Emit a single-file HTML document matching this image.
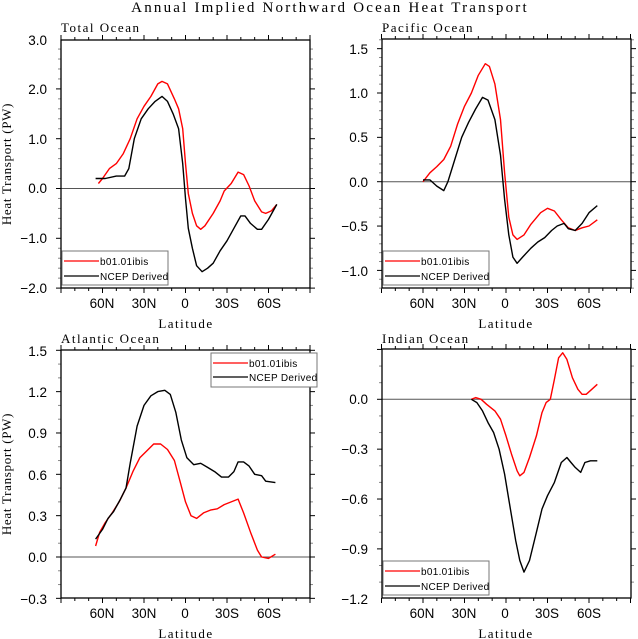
<!DOCTYPE html>
<html><head><meta charset="utf-8"><style>
body{margin:0;background:#fff;width:638px;height:639px;overflow:hidden}
svg{display:block}
text{font-family:"Liberation Sans",sans-serif;fill:#000}
.t{font-family:"Liberation Serif",serif}
</style></head><body>
<svg id="s" width="638" height="639" viewBox="0 0 638 639" xmlns="http://www.w3.org/2000/svg">
<rect width="638" height="639" fill="#fff"/>
<text class="t" x="330" y="12" font-size="15" letter-spacing="2.2" text-anchor="middle">Annual Implied Northward Ocean Heat Transport</text>
<g letter-spacing="1.5">
<text class="t" x="61" y="32" font-size="13">Total Ocean</text>
<text class="t" x="382" y="32" font-size="13">Pacific Ocean</text>
<text class="t" x="61" y="343" font-size="13">Atlantic Ocean</text>
<text class="t" x="382" y="343" font-size="13">Indian Ocean</text>
</g>
<g font-size="13.5" text-anchor="end">
<text x="47" y="45">3.0</text><text x="47" y="94">2.0</text><text x="47" y="144">1.0</text><text x="47" y="193">0.0</text><text x="47" y="243">−1.0</text><text x="47" y="293">−2.0</text>
<text x="368" y="54">1.5</text><text x="368" y="98">1.0</text><text x="368" y="142">0.5</text><text x="368" y="187">0.0</text><text x="368" y="231">−0.5</text><text x="368" y="276">−1.0</text>
<text x="47" y="356">1.5</text><text x="47" y="397">1.2</text><text x="47" y="438">0.9</text><text x="47" y="480">0.6</text><text x="47" y="521">0.3</text><text x="47" y="562">0.0</text><text x="47" y="604">−0.3</text>
<text x="368" y="404">0.0</text><text x="368" y="454">−0.3</text><text x="368" y="504">−0.6</text><text x="368" y="554">−0.9</text><text x="368" y="604">−1.2</text>
</g>
<g font-size="13.5" text-anchor="middle">
<text x="102" y="308">60N</text><text x="144" y="308">30N</text><text x="185" y="308">0</text><text x="227" y="308">30S</text><text x="269" y="308">60S</text>
<text x="422" y="308">60N</text><text x="464" y="308">30N</text><text x="505" y="308">0</text><text x="547" y="308">30S</text><text x="589" y="308">60S</text>
<text x="102" y="618">60N</text><text x="144" y="618">30N</text><text x="185" y="618">0</text><text x="227" y="618">30S</text><text x="269" y="618">60S</text>
<text x="422" y="618">60N</text><text x="464" y="618">30N</text><text x="505" y="618">0</text><text x="547" y="618">30S</text><text x="589" y="618">60S</text>
</g>
<g font-size="13" text-anchor="middle" letter-spacing="1.5">
<text class="t" x="186" y="328">Latitude</text><text class="t" x="506" y="328">Latitude</text>
<text class="t" x="186" y="638">Latitude</text><text class="t" x="506" y="638">Latitude</text>
</g>
<g font-size="13" text-anchor="middle" letter-spacing="0.7">
<text class="t" transform="translate(11,164) rotate(-90)">Heat Transport (PW)</text>
<text class="t" transform="translate(11,474) rotate(-90)">Heat Transport (PW)</text>
</g>
<g id="plots"></g>
<g font-size="10" font-family="Liberation Serif" letter-spacing="0.3">
<rect x="62" y="251" width="106" height="34" fill="#fff" stroke="#777"/>
<line x1="64" y1="261" x2="99" y2="261" stroke="red" stroke-width="1.3"/><text x="100" y="265">b01.01ibis</text>
<line x1="64" y1="276" x2="99" y2="276" stroke="#000" stroke-width="1.3"/><text x="100" y="280">NCEP Derived</text>
<rect x="383" y="251" width="106" height="34" fill="#fff" stroke="#777"/>
<line x1="385" y1="261" x2="420" y2="261" stroke="red" stroke-width="1.3"/><text x="421" y="265">b01.01ibis</text>
<line x1="385" y1="276" x2="420" y2="276" stroke="#000" stroke-width="1.3"/><text x="421" y="280">NCEP Derived</text>
<rect x="211" y="353" width="106" height="34" fill="#fff" stroke="#777"/>
<line x1="213" y1="363" x2="248" y2="363" stroke="red" stroke-width="1.3"/><text x="249" y="367">b01.01ibis</text>
<line x1="213" y1="377" x2="248" y2="377" stroke="#000" stroke-width="1.3"/><text x="249" y="381">NCEP Derived</text>
<rect x="383" y="561" width="106" height="34" fill="#fff" stroke="#777"/>
<line x1="385" y1="571" x2="420" y2="571" stroke="red" stroke-width="1.3"/><text x="421" y="575">b01.01ibis</text>
<line x1="385" y1="586" x2="420" y2="586" stroke="#000" stroke-width="1.3"/><text x="421" y="590">NCEP Derived</text>
</g>
</svg>
<script>
var P=[
{x0:61,x1:310,y0:40,y1:288,cx:185.5,cy:188.5,sy:49.8,maj:1,min:0.2,
r:[[63,0.1],[60,0.2],[55,0.4],[50,0.5],[45,0.7],[40,1.0],[35,1.4],[30,1.65],[25,1.85],[20,2.1],[17,2.15],[13,2.1],[8,1.8],[5,1.6],[2,1.2],[0,0.5],[-2,-0.1],[-5,-0.5],[-8,-0.75],[-11,-0.82],[-14,-0.75],[-20,-0.5],[-25,-0.25],[-28,-0.05],[-33,0.1],[-38,0.33],[-42,0.28],[-46,0.05],[-50,-0.25],[-55,-0.47],[-58,-0.5],[-62,-0.45],[-66,-0.32]],
b:[[65,0.2],[58,0.2],[50,0.25],[44,0.25],[41,0.4],[37,1.0],[32,1.4],[27,1.6],[22,1.75],[17,1.85],[13,1.75],[9,1.5],[5,1.2],[2,0.5],[0,-0.2],[-2,-0.8],[-5,-1.2],[-8,-1.55],[-12,-1.67],[-16,-1.6],[-20,-1.5],[-25,-1.25],[-30,-1.05],[-35,-0.8],[-40,-0.55],[-43,-0.55],[-47,-0.7],[-52,-0.82],[-55,-0.82],[-60,-0.62],[-66,-0.32]]},
{x0:382,x1:631,y0:39,y1:288,cx:506,cy:181.7,sy:88.7,maj:0.5,min:0.1,
r:[[60,0],[55,0.1],[50,0.17],[45,0.25],[40,0.4],[35,0.65],[30,0.85],[25,1.0],[20,1.2],[15,1.33],[12,1.3],[8,1.1],[4,0.7],[1,0.1],[-2,-0.4],[-5,-0.6],[-8,-0.65],[-13,-0.6],[-18,-0.48],[-25,-0.35],[-30,-0.3],[-35,-0.33],[-40,-0.43],[-45,-0.52],[-50,-0.55],[-55,-0.52],[-60,-0.5],[-66,-0.43]],
b:[[60,0.02],[55,0.02],[50,-0.05],[45,-0.1],[42,0.0],[37,0.25],[32,0.5],[27,0.67],[22,0.82],[17,0.95],[13,0.92],[8,0.7],[4,0.3],[1,-0.2],[-2,-0.6],[-5,-0.85],[-8,-0.92],[-12,-0.85],[-18,-0.75],[-23,-0.68],[-28,-0.63],[-33,-0.55],[-37,-0.5],[-42,-0.47],[-45,-0.53],[-50,-0.55],[-55,-0.47],[-60,-0.35],[-66,-0.27]]},
{x0:61,x1:310,y0:350,y1:598,cx:185.5,cy:557,sy:137.8,maj:0.3,min:0.1,
r:[[65,0.08],[62,0.18],[58,0.25],[53,0.32],[48,0.4],[43,0.5],[38,0.62],[33,0.72],[28,0.77],[23,0.82],[18,0.82],[13,0.78],[8,0.7],[4,0.55],[0,0.4],[-4,0.3],[-8,0.28],[-13,0.32],[-18,0.34],[-23,0.35],[-28,0.38],[-33,0.4],[-38,0.42],[-42,0.32],[-47,0.18],[-52,0.05],[-55,0],[-60,-0.01],[-65,0.02]],
b:[[65,0.13],[60,0.2],[56,0.28],[52,0.33],[47,0.42],[43,0.5],[40,0.68],[35,0.95],[30,1.1],[25,1.17],[20,1.2],[15,1.21],[11,1.18],[7,1.05],[3,0.85],[-1,0.72],[-6,0.67],[-11,0.68],[-16,0.65],[-21,0.62],[-26,0.58],[-31,0.58],[-35,0.62],[-38,0.69],[-42,0.69],[-46,0.66],[-50,0.6],[-55,0.59],[-58,0.55],[-65,0.54]]},
{x0:382,x1:631,y0:349,y1:598,cx:506,cy:399.3,sy:166.2,maj:0.3,min:0.1,
r:[[25,0],[22,0.01],[18,0],[14,-0.03],[8,-0.07],[4,-0.12],[0,-0.22],[-4,-0.33],[-8,-0.43],[-10,-0.46],[-13,-0.44],[-17,-0.35],[-22,-0.22],[-26,-0.08],[-29,-0.02],[-32,0],[-35,0.12],[-38,0.25],[-41,0.28],[-44,0.24],[-48,0.13],[-52,0.06],[-55,0.03],[-58,0.03],[-62,0.06],[-66,0.09]],
b:[[25,0],[21,-0.02],[17,-0.07],[13,-0.14],[9,-0.2],[5,-0.3],[1,-0.45],[-3,-0.65],[-7,-0.85],[-10,-0.97],[-13,-1.04],[-17,-0.97],[-22,-0.8],[-26,-0.66],[-30,-0.58],[-35,-0.5],[-40,-0.38],[-44,-0.35],[-47,-0.38],[-50,-0.41],[-54,-0.44],[-57,-0.38],[-61,-0.37],[-66,-0.37]]}];
var h='',sx=83/60;
P.forEach(function(p){
 var X=function(l){return p.cx-l*sx},Y=function(v){return p.cy-v*p.sy};
 h+='<line x1="'+p.x0+'" x2="'+p.x1+'" y1="'+p.cy+'" y2="'+p.cy+'" stroke="#555" stroke-width="1"/>';
 for(var l=-90;l<=90;l+=10){var x=X(l),m=(l%30==0)?5:3;
  h+='<line x1="'+x+'" x2="'+x+'" y1="'+(p.y0-m)+'" y2="'+p.y0+'" stroke="#000"/><line x1="'+x+'" x2="'+x+'" y1="'+p.y1+'" y2="'+(p.y1+m)+'" stroke="#000"/>';}
 for(var k=-40;k<=40;k++){var v=k*p.min,y=Y(v);if(y<p.y0-0.5||y>p.y1+0.5)continue;
  var mj=Math.abs(v/p.maj-Math.round(v/p.maj))<1e-6,m=mj?5:3;
  h+='<line x1="'+(p.x0-m)+'" x2="'+p.x0+'" y1="'+y+'" y2="'+y+'" stroke="'+(mj?'#000':'#888')+'"/><line x1="'+p.x1+'" x2="'+(p.x1+m)+'" y1="'+y+'" y2="'+y+'" stroke="'+(mj?'#000':'#888')+'"/>';}
 ['r','b'].forEach(function(c){h+='<polyline fill="none" stroke-linejoin="round" stroke-width="1.4" stroke="'+(c=='r'?'red':'#000')+'" points="'+p[c].map(function(q){return X(q[0]).toFixed(1)+','+Y(q[1]).toFixed(1)}).join(' ')+'"/>';});
 h+='<rect x="'+p.x0+'" y="'+p.y0+'" width="'+(p.x1-p.x0)+'" height="'+(p.y1-p.y0)+'" fill="none" stroke="#000" stroke-width="1.3"/>';
});
document.getElementById('plots').innerHTML=h;
</script>
</body></html>
